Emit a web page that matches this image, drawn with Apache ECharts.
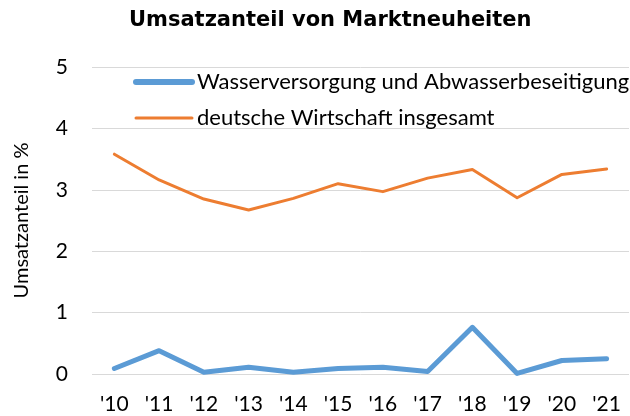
<!DOCTYPE html>
<html>
<head>
<meta charset="utf-8">
<script src="https://cdn.jsdelivr.net/npm/echarts@6/dist/echarts.min.js"></script>
<style>
  html, body { margin: 0; padding: 0; background: #fff; }
  #chart { width: 630px; height: 416px; }
</style>
</head>
<body>
<div id="chart"></div>
<script>
// jahre und werte
var jahre = ["'10", "'11", "'12", "'13", "'14", "'15", "'16", "'17", "'18", "'19", "'20", "'21"];
var wasser = [0.09, 0.38, 0.03, 0.11, 0.03, 0.09, 0.11, 0.04, 0.76, 0.01, 0.22, 0.25];
var wirtschaft = [3.58, 3.16, 2.85, 2.67, 2.86, 3.10, 2.97, 3.19, 3.33, 2.87, 3.25, 3.34];
var nameWasser = 'Wasserversorgung und Abwasserbeseitigung';
var nameWirtschaft = 'deutsche Wirtschaft insgesamt';

var schrift = 'Lato';
var blau = '#5b9bd5';
var orange = '#ed7d31';

var myChart = echarts.init(document.getElementById('chart'), null, { renderer: 'canvas' });

myChart.setOption({
    animation: false,
    backgroundColor: '#ffffff',
    title: {
        text: 'Umsatzanteil von Marktneuheiten',
        left: 124,
        top: 5,
        textStyle: { fontFamily: 'DejaVu Sans', fontWeight: 'bold', fontSize: 21, color: '#000' }
    },
    legend: {
        orient: 'vertical',
        left: 128,
        top: 66,
        itemWidth: 56,
        itemHeight: 20,
        itemGap: 14,
        itemStyle: { opacity: 0 },
        textStyle: { fontFamily: schrift, fontSize: 22, color: '#000', lineHeight: 20 },
        data: [
            { name: nameWasser, lineStyle: { width: 6, color: blau, cap: 'round' } },
            { name: nameWirtschaft, lineStyle: { width: 3, color: orange } }
        ]
    },
    grid: { left: 92, right: 1, top: 67, bottom: 42, containLabel: false },
    xAxis: {
        type: 'category',
        data: jahre,
        boundaryGap: true,
        axisLine: { show: false },
        axisTick: { show: false },
        axisLabel: { fontFamily: schrift, fontSize: 21, color: '#000', margin: 20 }
    },
    yAxis: {
        type: 'value',
        min: 0,
        max: 5,
        interval: 1,
        name: 'Umsatzanteil in %',
        nameLocation: 'middle',
        nameRotate: 90,
        nameGap: 60,
        nameTextStyle: { fontFamily: schrift, fontSize: 20, color: '#000' },
        axisLine: { show: false },
        axisTick: { show: false },
        axisLabel: { fontFamily: schrift, fontSize: 21, color: '#000', margin: 24 },
        splitLine: { lineStyle: { color: '#d9d9d9', width: 1 } }
    },
    series: [
        {
            name: nameWasser,
            type: 'line',
            data: wasser,
            symbol: 'none',
            color: blau,
            lineStyle: { width: 5, color: blau, cap: 'round', join: 'round' }
        },
        {
            name: nameWirtschaft,
            type: 'line',
            data: wirtschaft,
            symbol: 'none',
            color: orange,
            lineStyle: { width: 3, color: orange, cap: 'round', join: 'round' }
        }
    ]
});
</script>
</body>
</html>
